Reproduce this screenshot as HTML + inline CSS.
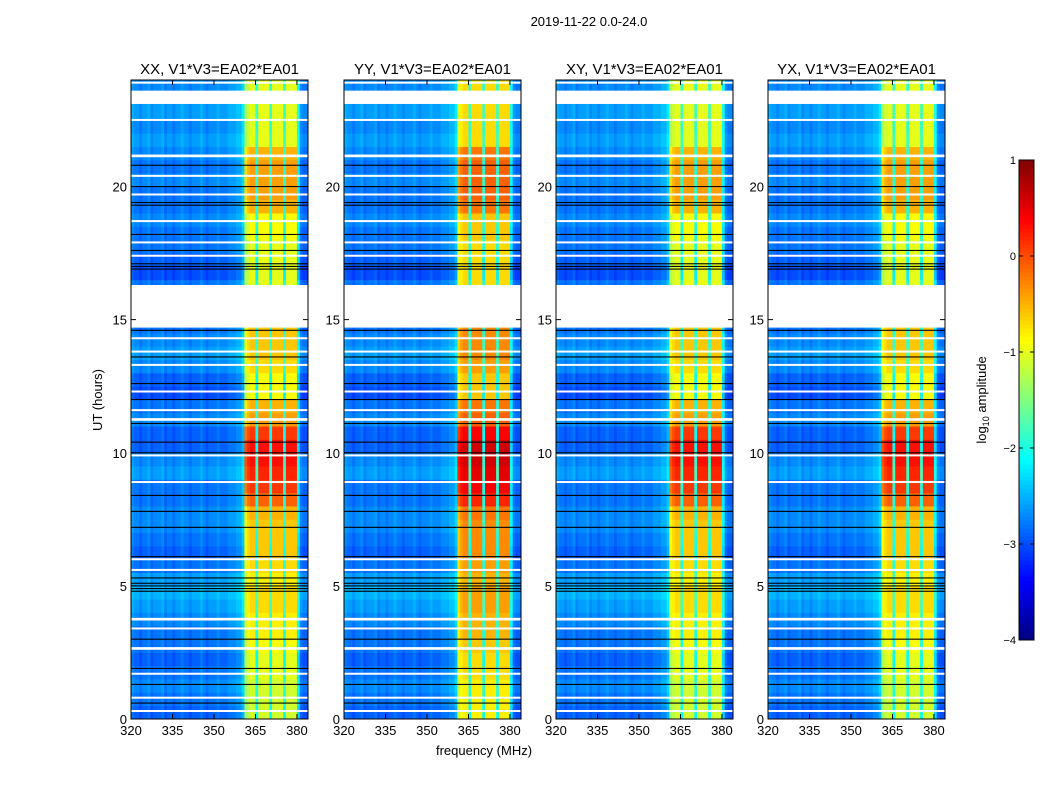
<!DOCTYPE html>
<html><head><meta charset="utf-8"><style>
body{margin:0;background:#fff;width:1050px;height:800px;overflow:hidden;font-family:"Liberation Sans","DejaVu Sans",sans-serif}
svg text{font-family:"Liberation Sans","DejaVu Sans",sans-serif}
</style></head><body>
<svg id="fig" width="1050" height="800" viewBox="0 0 1050 800">
<text x="589" y="26" font-size="13" text-anchor="middle">2019-11-22 0.0-24.0</text>
<text x="484" y="755" font-size="13" text-anchor="middle">frequency (MHz)</text>
<text transform="translate(102,400) rotate(-90)" font-size="13" text-anchor="middle">UT (hours)</text>
<g id="cbar"></g>
<text transform="translate(986,400) rotate(-90)" font-size="13" text-anchor="middle">log<tspan font-size="9" dy="3">10</tspan><tspan dy="-3"> amplitude</tspan></text>
</svg>
<script>
// ---- data ----
const panelTitles = ["XX, V1*V3=EA02*EA01","YY, V1*V3=EA02*EA01","XY, V1*V3=EA02*EA01","YX, V1*V3=EA02*EA01"];
const panelOffset = [0, 0.3, 0.0, 0.0];
const freqStart = [320,321,322,323,324,325,326,327,328,329,330,331,332,333,334,335,336,337,338,339,340,341,342,343,344,345,346,347,348,349,350,351,352,353,354,355,356,357,358,359,360,361,362,363,364,365,366,367,368,369,370,371,372,373,374,375,376,377,378,379,380,381,382,383];
// column type: 0 background, 1 band, 2 band gap
const colType = [0,0,0,0,0,0,0,0,0,0,0,0,0,0,0,0,0,0,0,0,0,0,0,0,0,0,0,0,0,0,0,0,0,0,0,0,0,0,0,0,0,1,1,1,1,2,1,1,1,1,2,1,1,1,1,2,1,1,1,1,2,0,0,0];
const colBg = [-2.7,-2.8,-2.8,-2.9,-2.8,-2.8,-2.7,-2.9,-2.8,-2.8,-2.8,-2.7,-2.9,-2.8,-2.8,-2.9,-2.8,-2.8,-2.7,-2.8,-2.8,-2.9,-2.8,-2.8,-2.8,-2.7,-2.8,-2.9,-2.8,-2.8,-2.8,-2.7,-2.8,-2.8,-2.8,-2.7,-2.7,-2.7,-2.6,-2.6,-2.4,-0.3,-0.1,0,0,-2.0,0,0,0,0,-2.0,0,0,0,0,-2.0,0,0,0,0,-2.2,-2.8,-2.9,-2.9];
// band level per half-hour row, row 0 = 0.0-0.5 h
const bandLevel = [-1.1,-1.1,-1.1,-1.0,-1.0,-0.9,-0.8,-0.8,-0.7,-0.7,-0.8,-0.7,-0.6,-0.6,-0.6,-0.5,-0.1,0.1,0.2,0.3,0.3,0.1,-0.4,-0.5,-0.9,-0.9,-0.7,-0.6,-0.6,-0.6,-0.7,-1.0,-1.0,-1.0,-1.0,-1.0,-0.9,-0.9,-0.5,-0.4,-0.4,-0.4,-0.5,-1.0,-1.0,-1.0,-1.0,-1.0];
const bgLevel = [-0.1,0,0.1,0,-0.1,0,0,0.1,0.2,0.3,0.2,0,-0.1,0,0.1,0.1,0,0,0.2,0.1,-0.1,-0.1,0.1,0,-0.2,-0.1,0.1,0.2,0.1,0,0,0,0,-0.2,-0.1,0,0,0.1,0,0,0.1,0,0.1,0.2,0.1,0.2,0.2,0.1];
// flagged (white) intervals in hours
const flagStart = [14.7, 23.1, 21.1, 11.2, 2.6, 3.7];
const flagEnd   = [16.3, 23.6, 21.2, 11.3, 2.7, 3.8];
const whiteLines = [0.3,0.8,1.7,3.4,5.6,6.0,8.9,9.9,11.6,12.3,13.3,13.8,14.3,17.4,17.9,18.7,19.7,20.4,22.5,23.9];
const blackLines = [0.6,1.3,1.9,3.0,4.8,4.9,5.0,5.1,5.3,6.1,7.2,7.8,8.4,10.0,10.4,11.1,12.0,12.6,13.6,14.6,16.9,17.0,17.1,17.6,18.2,19.3,19.4,20.0,20.8,23.2];
const xTicks = [320,335,350,365,380];
const yTicks = [0,5,10,15,20];
const cbTicks = [1,0,-1,-2,-3,-4];
// ---- layout ----
const panelX = [131,344,556,768], PW = 177, PT = 80, PB = 719;
const fMin = 320, fMax = 384, tMax = 24, vMin = -4, vMax = 1;
const NS = "http://www.w3.org/2000/svg";
const svg = document.getElementById('fig');
function jet(v){let t=(v-vMin)/(vMax-vMin);t=Math.max(0,Math.min(1,t));
 const c=x=>Math.round(255*Math.max(0,Math.min(1,x)));
 return `rgb(${c(1.5-Math.abs(4*t-3))},${c(1.5-Math.abs(4*t-2))},${c(1.5-Math.abs(4*t-1))})`;}
function mk(tag,attrs,parent){const e=document.createElementNS(NS,tag);for(const k in attrs)e.setAttribute(k,attrs[k]);(parent||svg).appendChild(e);return e;}
panelTitles.forEach((title,p)=>{
 const x0=panelX[p];
 const xs=f=>x0+(f-fMin)/(fMax-fMin)*PW;
 const ys=h=>PB-h/tMax*(PB-PT);
 const g=mk('g',{});
 
 
 for(let r=0;r<bandLevel.length;r++){
  for(let c=0;c<freqStart.length;c++){
   let v;
   if(colType[c]===1) v=bandLevel[r]+panelOffset[p]+colBg[c];
   else if(colType[c]===2) v=colBg[c]+bgLevel[r];
   else v=colBg[c]+bgLevel[r];
   const rc=mk('rect',{x:xs(freqStart[c]).toFixed(2),y:ys((r+1)*0.5).toFixed(2),width:(xs(freqStart[c]+1)-xs(freqStart[c])+0.4).toFixed(2),height:(ys(0)-ys(0.5)+0.4).toFixed(2),fill:jet(v)},g);
   
   
  }
 }
 whiteLines.forEach(h=>{const l=mk('rect',{x:x0,y:ys(h)-1,width:PW,height:2,fill:'#fff'},g);
  
  });
 blackLines.forEach(h=>{const l=mk('rect',{x:x0,y:ys(h)-0.5,width:PW,height:1.1,fill:'#000'},g);
  
  });
 flagStart.forEach((s,i)=>{const l=mk('rect',{x:x0,y:ys(flagEnd[i]),width:PW,height:ys(s)-ys(flagEnd[i]),fill:'#fff'},g);
  
  });
 const fr=mk('rect',{x:x0,y:PT,width:PW,height:PB-PT,fill:'none',stroke:'#000','stroke-width':1},g);
 
 
 const tt=mk('text',{x:x0+PW/2,y:PT-6,'font-size':15,'text-anchor':'middle'},g);tt.textContent=title;
 
 
 xTicks.forEach(f=>{const x=xs(f);mk('line',{x1:x,x2:x,y1:PB,y2:PB-5,stroke:'#000'},g);mk('line',{x1:x,x2:x,y1:PT,y2:PT+5,stroke:'#000'},g);
  const t=mk('text',{x:x,y:PB+16,'font-size':13,'text-anchor':'middle'},g);t.textContent=f;
  
  });
 yTicks.forEach(h=>{const y=ys(h);mk('line',{x1:x0,x2:x0+5,y1:y,y2:y,stroke:'#000'},g);mk('line',{x1:x0+PW,x2:x0+PW-5,y1:y,y2:y,stroke:'#000'},g);
  const t=mk('text',{x:x0-4,y:y+5,'font-size':13,'text-anchor':'end'},g);t.textContent=h;
  
  });
});
// colorbar
const cb=document.getElementById('cbar');
const CBX=1019,CBW=15,CBT=160,CBB=640;
const cbY=v=>CBB-(v-vMin)/(vMax-vMin)*(CBB-CBT);
for(let i=0;i<120;i++){const v0=vMin+i*(vMax-vMin)/120;const v1=v0+(vMax-vMin)/120;
 const r=mk('rect',{x:CBX,y:cbY(v1),width:CBW,height:cbY(v0)-cbY(v1)+0.5,fill:jet((v0+v1)/2)},cb);
 
 }
mk('rect',{x:CBX,y:CBT,width:CBW,height:CBB-CBT,fill:'none',stroke:'#000'},cb);
cbTicks.forEach(v=>{const y=cbY(v);mk('line',{x1:CBX,x2:CBX+4,y1:y,y2:y,stroke:'#000'},cb);mk('line',{x1:CBX+CBW,x2:CBX+CBW-4,y1:y,y2:y,stroke:'#000'},cb);
 const t=mk('text',{x:CBX-3,y:y+4,'font-size':11,'text-anchor':'end'},cb);t.textContent=v<0?'\u2212'+(-v):v;
 
 });
</script>
</body></html>
